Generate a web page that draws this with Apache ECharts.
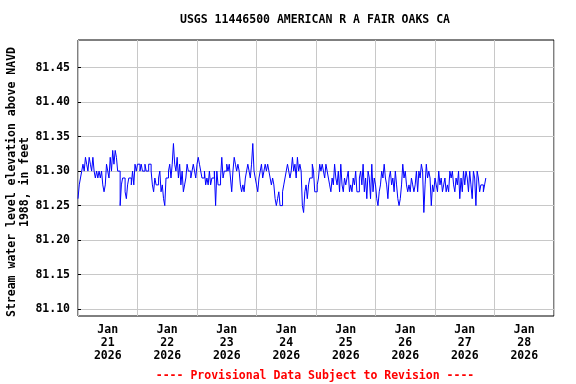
<!DOCTYPE html>
<html><head><meta charset="utf-8">
<script src="https://cdn.jsdelivr.net/npm/echarts@6/dist/echarts.min.js"></script>
<style>html,body{margin:0;padding:0;background:#fff}#c{width:576px;height:384px}</style>
</head><body><div id="c"></div>
<script>
const chartTitle = 'USGS 11446500 AMERICAN R A FAIR OAKS CA';
const yAxisName = 'Stream water level elevation above NAVD\n1988, in feet';
const footerText = '---- Provisional Data Subject to Revision ----';
const xLabels = ['Jan\n21\n2026','Jan\n22\n2026','Jan\n23\n2026','Jan\n24\n2026','Jan\n25\n2026','Jan\n26\n2026','Jan\n27\n2026','Jan\n28\n2026'];
const yTicks = [81.10, 81.15, 81.20, 81.25, 81.30, 81.35, 81.40, 81.45];
const yMin = 81.09, yMax = 81.49;
const startTime = Date.UTC(2026, 0, 21, 0, 0);
const endTime = Date.UTC(2026, 0, 29, 0, 0);
const stepMinutes = 30;

// 30-minute gage heights, feet
const day21 = [81.26,81.28,81.29,81.30,81.31,81.30,81.32,81.31,81.30,81.32,81.31,81.30,81.32,81.30,81.29,81.30,81.29,81.30,81.29,81.30,81.28,81.27,81.28,81.31,
               81.30,81.29,81.32,81.30,81.33,81.31,81.33,81.32,81.30,81.30,81.25,81.28,81.29,81.29,81.27,81.26,81.28,81.29,81.29,81.28,81.30,81.28,81.31,81.30];
const day22 = [81.31,81.31,81.30,81.31,81.30,81.30,81.31,81.30,81.30,81.31,81.31,81.30,81.28,81.27,81.29,81.28,81.28,81.29,81.30,81.27,81.28,81.26,81.25,81.29,
               81.29,81.30,81.31,81.29,81.31,81.34,81.31,81.30,81.32,81.29,81.31,81.28,81.30,81.27,81.28,81.29,81.31,81.30,81.30,81.29,81.30,81.31,81.30,81.29];
const day23 = [81.31,81.32,81.31,81.30,81.29,81.29,81.30,81.28,81.29,81.28,81.30,81.28,81.29,81.29,81.30,81.25,81.30,81.28,81.28,81.29,81.32,81.29,81.30,81.30,
               81.31,81.30,81.31,81.29,81.27,81.30,81.32,81.31,81.30,81.31,81.30,81.28,81.27,81.28,81.27,81.29,81.30,81.31,81.30,81.29,81.31,81.34,81.30,81.29];
const day24 = [81.28,81.27,81.29,81.30,81.31,81.29,81.30,81.31,81.30,81.31,81.30,81.29,81.28,81.29,81.28,81.26,81.25,81.26,81.27,81.25,81.25,81.27,81.28,81.29,
               81.30,81.31,81.30,81.29,81.30,81.32,81.30,81.31,81.29,81.32,81.30,81.31,81.30,81.25,81.24,81.27,81.28,81.26,81.28,81.29,81.29,81.31,81.30,81.27];
const day25 = [81.27,81.28,81.29,81.31,81.30,81.31,81.30,81.29,81.31,81.30,81.29,81.28,81.27,81.29,81.28,81.31,81.29,81.28,81.30,81.27,81.31,81.28,81.27,81.29,
               81.28,81.29,81.30,81.27,81.28,81.27,81.29,81.28,81.30,81.27,81.27,81.29,81.30,81.28,81.31,81.27,81.29,81.26,81.30,81.29,81.26,81.31,81.27,81.29];
const day26 = [81.28,81.26,81.25,81.27,81.28,81.30,81.29,81.31,81.29,81.28,81.26,81.29,81.30,81.28,81.29,81.27,81.30,81.28,81.26,81.25,81.26,81.28,81.31,81.29,
               81.30,81.28,81.27,81.28,81.27,81.29,81.28,81.27,81.28,81.30,81.27,81.30,81.29,81.31,81.30,81.24,81.28,81.31,81.29,81.30,81.29,81.25,81.28,81.27];
const day27 = [81.29,81.28,81.27,81.30,81.28,81.29,81.27,81.28,81.29,81.27,81.28,81.27,81.30,81.29,81.30,81.28,81.27,81.29,81.28,81.30,81.26,81.29,81.27,81.30,
               81.28,81.30,81.29,81.27,81.30,81.28,81.26,81.30,81.29,81.25,81.30,81.29,81.27,81.28,81.28,81.27,81.28,81.29];

const values = [].concat(day21, day22, day23, day24, day25, day26, day27);
const seriesData = values.map((v, i) => [startTime + i * stepMinutes * 60000, v]);

const FONT = 'DejaVu Sans Mono';
const FS = 11.5;
const chart = echarts.init(document.getElementById('c'), null, {renderer: 'canvas'});
chart.setOption({
  animation: false,
  backgroundColor: '#ffffff',
  title: [
    {text: chartTitle, left: 310, top: 9, textAlign: 'center',
     textStyle: {fontFamily: FONT, fontSize: FS, fontWeight: 'bold', color: '#000'}},
    {text: footerText, left: 310, top: 365, textAlign: 'center',
     textStyle: {fontFamily: FONT, fontSize: FS, fontWeight: 'bold', color: '#ff0000'}}
  ],
  grid: {left: 78, right: 22, top: 40, bottom: 68, containLabel: false, outerBoundsMode: 'none',
         show: true, borderColor: '#000', borderWidth: 1, backgroundColor: 'transparent'},
  xAxis: [
    {type: 'value', min: startTime, max: endTime, interval: 86400000,
     axisLine: {show: false}, axisTick: {show: false}, axisLabel: {show: false},
     splitLine: {show: true, lineStyle: {color: '#c8c8c8', width: 1}}},
    {type: 'category', data: xLabels, boundaryGap: true, position: 'bottom',
     axisLine: {show: false}, axisTick: {show: false}, splitLine: {show: false},
     axisLabel: {fontFamily: FONT, fontSize: FS, fontWeight: 'bold', color: '#000', lineHeight: 13, margin: 8, interval: 0}}
  ],
  yAxis: {
    type: 'value', min: yMin, max: yMax,
    name: yAxisName, nameLocation: 'middle', nameRotate: 90, nameGap: 46, nameMoveOverlap: false,
    nameTextStyle: {fontFamily: FONT, fontSize: FS, fontWeight: 'bold', color: '#000', lineHeight: 13, align: 'center', padding: [0, 8, 0, 0]},
    axisLine: {show: false},
    axisTick: {show: true, inside: true, length: 3, customValues: yTicks, lineStyle: {color: '#000'}},
    axisLabel: {customValues: yTicks, formatter: v => v.toFixed(2), fontFamily: FONT, fontSize: FS, fontWeight: 'bold', color: '#000', margin: 8},
    splitLine: {show: true, lineStyle: {color: '#c8c8c8', width: 1}}
  },
  series: [{
    type: 'line', xAxisIndex: 0, data: seriesData, step: 'end', showSymbol: false,
    lineStyle: {color: '#0000ff', width: 1}, itemStyle: {color: '#0000ff'}
  }]
});
</script></body></html>
